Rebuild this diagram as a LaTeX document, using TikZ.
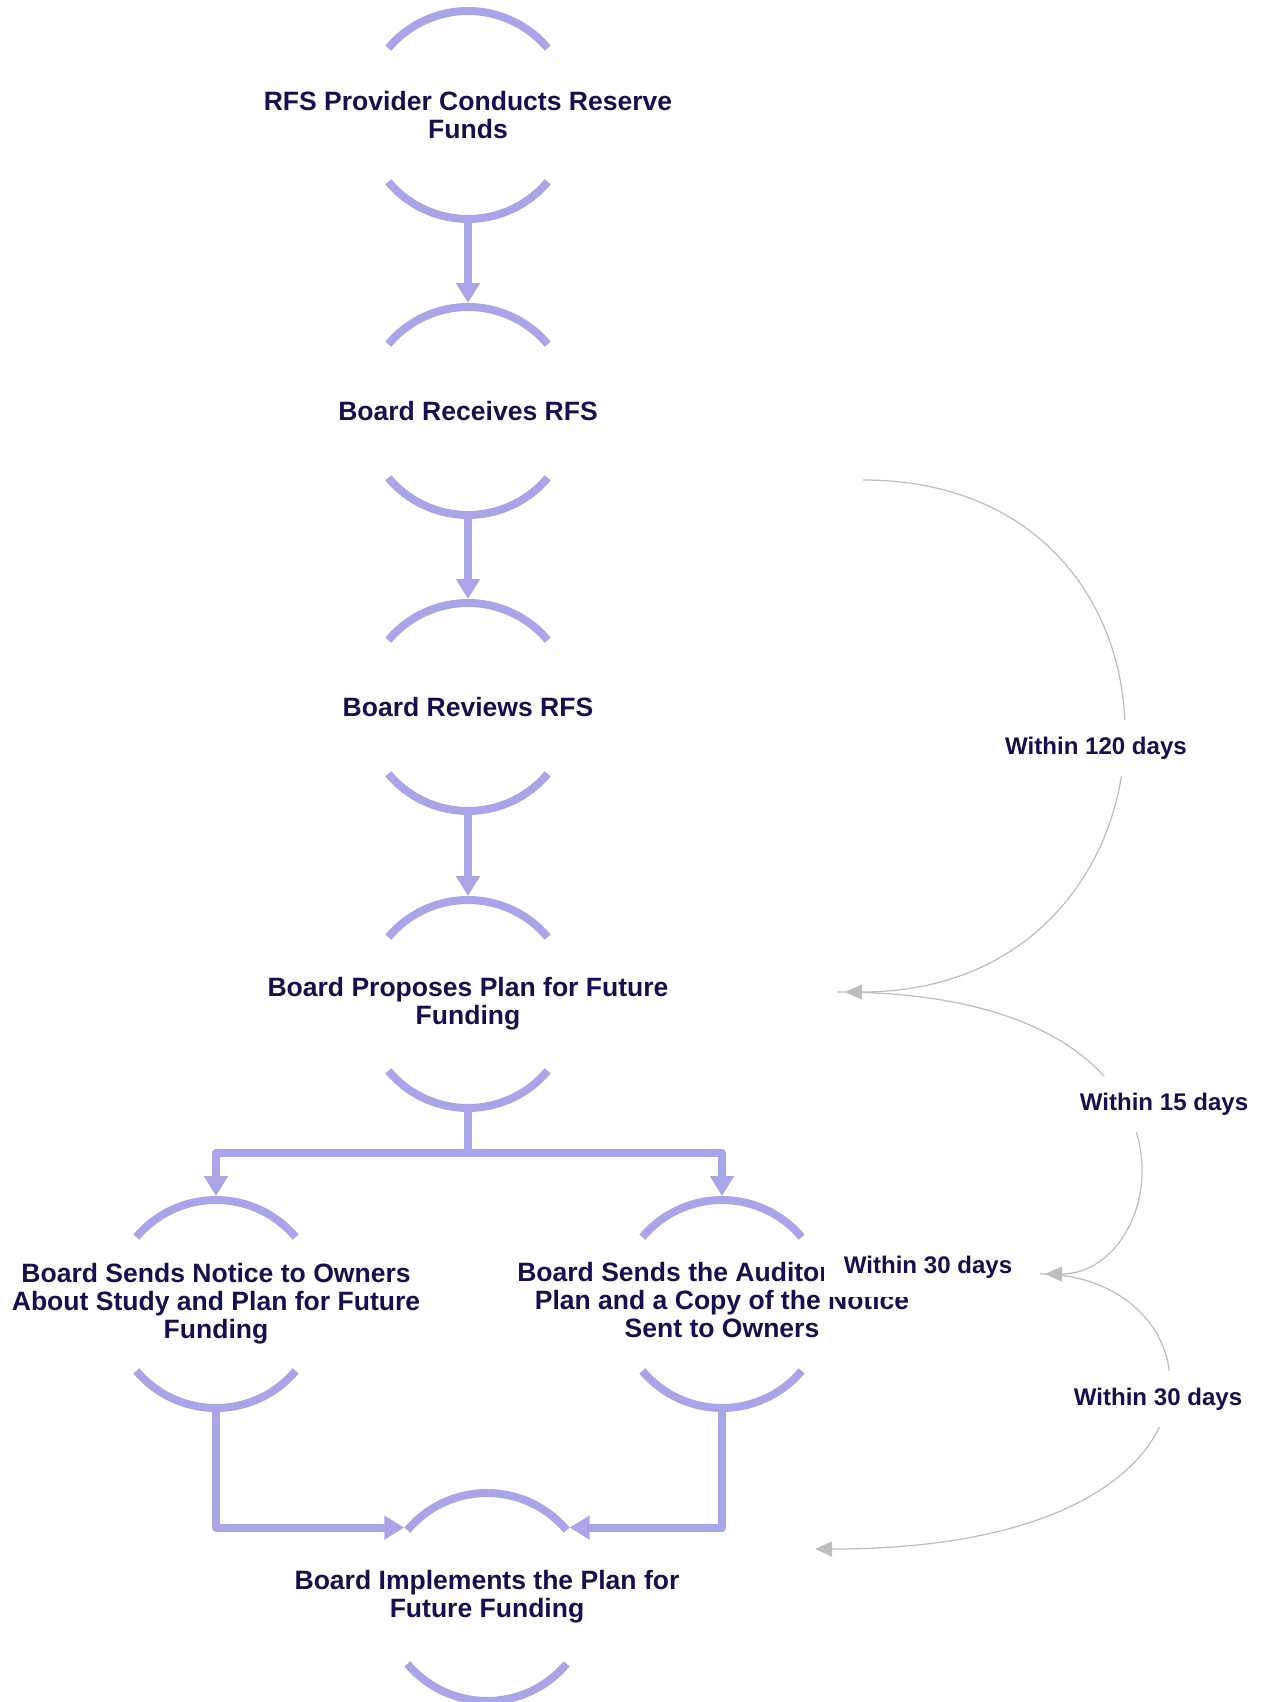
\documentclass[tikz,border=0pt]{standalone}
\usepackage{fontspec}
\setmainfont{Liberation Sans}
\usetikzlibrary{arrows.meta}

\definecolor{stepink}{RGB}{19,16,82}
\definecolor{ringblue}{RGB}{168,166,232}
\definecolor{laggrey}{RGB}{190,190,190}

\tikzset{
  stagering/.style={circle,minimum size=4.16cm,inner sep=0pt,outer sep=0.08cm},
  stagetext/.style={align=center,text=stepink,font=\fontsize{15.1pt}{15.9pt}\selectfont\bfseries},
  ringarc/.style={draw=ringblue,line width=0.16cm},
  flowline/.style={draw=ringblue,line width=0.16cm,line join=round,-{Triangle[length=0.4cm,width=0.46cm]}},
  lagline/.style={draw=laggrey,line width=0.025cm,-{Triangle[length=0.34cm,width=0.3cm]}},
  lagtext/.style={fill=white,text=stepink,font=\fontsize{13.7pt}{15pt}\selectfont\bfseries,
    inner xsep=0.4cm,inner ysep=0pt,minimum height=1.12cm}
}

\begin{document}
\begin{tikzpicture}[x=0.02cm,y=-0.02cm]

\useasboundingbox (0,0) rectangle (1267,1702);

% stages
\node[stagering] (provider)   at (468,115)  {};
\node[stagering] (receives)   at (468,411)  {};
\node[stagering] (reviews)    at (468,707)  {};
\node[stagering] (proposes)   at (468,1004) {};
\node[stagering] (notice)     at (216,1304) {};
\node[stagering] (auditor)    at (722,1304) {};
\node[stagering] (implements) at (487,1597) {};

\foreach \n in {provider,receives,reviews,proposes,notice,auditor,implements} {
  \draw[ringarc] ([shift={(40:2.08cm)}]\n.center) arc[start angle=40,end angle=140,radius=2.08cm];
  \draw[ringarc] ([shift={(220:2.08cm)}]\n.center) arc[start angle=220,end angle=320,radius=2.08cm];
}

\node[stagetext] (providertxt)   at (provider)   {RFS Provider Conducts Reserve\\Funds};
\node[stagetext] (receivestxt)   at (receives)   {Board Receives RFS};
\node[stagetext] (reviewstxt)    at (reviews)    {Board Reviews RFS};
\node[stagetext] (proposestxt)   at (proposes)   {Board Proposes Plan for Future\\Funding};
\node[stagetext] (noticetxt)     at (notice)     {Board Sends Notice to Owners\\About Study and Plan for Future\\Funding};
\node[stagetext] (auditortxt)    at (722,1300)   {Board Sends the Auditor\kern1.94cm\\Plan and a Copy of the Notice\\Sent to Owners};
\node[stagetext] (implementstxt) at (implements) {Board Implements the Plan for\\Future Funding};

% main flow
\draw[flowline] (provider) -- (receives);
\draw[flowline] (receives) -- (reviews);
\draw[flowline] (reviews) -- (proposes);

\coordinate (split) at (468,1153);
\draw[flowline,-] (proposes) -- (split);
\draw[flowline] (split) -| (notice);
\draw[flowline] (split) -| (auditor);

\draw[flowline] (notice) |- (implements.140);
\draw[flowline] (auditor) |- (implements.40);

% time limits
\coordinate (lagstart) at (863,480);
\coordinate (lagplan)  at (845,992);
\coordinate (lagplan0) at (837,992);
\coordinate (lagaudit) at (1045,1274);
\coordinate (lagaudit0) at (1040,1274);
\coordinate (lagimpl)  at (815,1549);

\draw[lagline] (lagstart) .. controls (1220,480) and (1205,992) .. (lagplan);
\draw[lagline] (lagplan0) .. controls (1228,992) and (1170,1274) .. (lagaudit);
\draw[lagline] (lagaudit0) .. controls (1222,1274) and (1262,1549) .. (lagimpl);

\node[lagtext] (lag120) at (1096,748)  {Within 120 days};
\node[lagtext] (lag15)  at (1164,1104) {Within 15 days};
\node[lagtext,minimum height=1.2cm] (lag30a) at (928,1267) {Within 30 days};
\node[lagtext] (lag30b) at (1158,1399) {Within 30 days};

\end{tikzpicture}
\end{document}
